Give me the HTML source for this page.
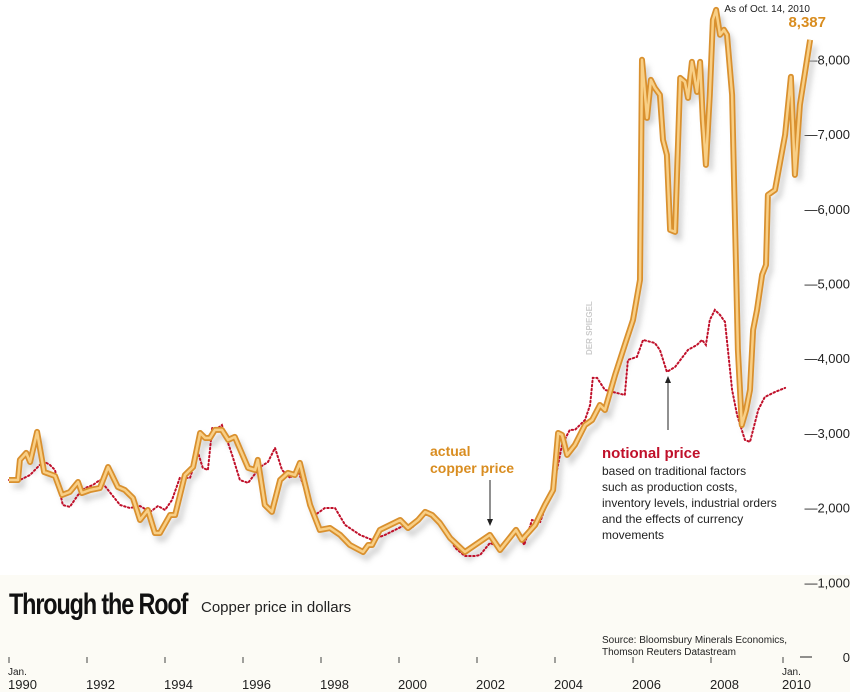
<!DOCTYPE html>
<html><head><meta charset="utf-8"><style>
body{margin:0;width:850px;height:692px;overflow:hidden;background:#fff;font-family:"Liberation Sans",sans-serif}
svg{display:block}
</style></head><body>
<svg id="chart" width="850" height="692" viewBox="0 0 850 692" font-family="Liberation Sans, sans-serif">
<defs><filter id="sh" x="-5%" y="-5%" width="110%" height="115%"><feGaussianBlur stdDeviation="3"/></filter></defs>
<rect x="0" y="575" width="850" height="117" fill="#fcfbf5"/>
<g id="yaxis"></g>
<g id="xaxis"></g>
<g id="series"></g>
<text x="9" y="614" font-size="30" font-weight="bold" fill="#111" transform="translate(9 0) scale(0.78 1) translate(-9 0)" textLength="230">Through the Roof</text>
<text x="201" y="612" font-size="15" fill="#222">Copper price in dollars</text>
<text x="602" y="643" font-size="10" fill="#222">Source: Bloomsbury Minerals Economics,</text>
<text x="602" y="655" font-size="10" fill="#222">Thomson Reuters Datastream</text>
<text x="810" y="12" font-size="10" fill="#222" text-anchor="end">As of Oct. 14, 2010</text>
<text x="826" y="27" font-size="15" font-weight="bold" fill="#d98d20" text-anchor="end">8,387</text>
<text x="430" y="456" font-size="14" font-weight="bold" fill="#d98d20">actual</text>
<text x="430" y="473" font-size="14" font-weight="bold" fill="#d98d20">copper price</text>
<line x1="490" y1="480" x2="490" y2="522" stroke="#222" stroke-width="1"/>
<path d="M487,519 L490,526 L493,519Z" fill="#222"/>
<text x="602" y="458" font-size="15" font-weight="bold" fill="#c0102a">notional price</text>
<g font-size="12" fill="#222">
<text x="602" y="475">based on traditional factors</text>
<text x="602" y="491">such as production costs,</text>
<text x="602" y="507">inventory levels, industrial orders</text>
<text x="602" y="523">and the effects of currency</text>
<text x="602" y="539">movements</text></g>
<line x1="668" y1="430" x2="668" y2="380" stroke="#222" stroke-width="1"/>
<path d="M665,383 L668,376 L671,383Z" fill="#222"/>
<text x="0" y="0" font-size="8" font-weight="bold" fill="#ccc" transform="translate(592 355) rotate(-90)">DER SPIEGEL</text>
</svg>
<script>
const yTicks=[0,1000,2000,3000,4000,5000,6000,7000,8000];
const yTickLabels=["0","1,000","2,000","3,000","4,000","5,000","6,000","7,000","8,000"];
const xTicks=[1990,1992,1994,1996,1998,2000,2002,2004,2006,2008,2010];
const xTickLabels=["1990","1992","1994","1996","1998","2000","2002","2004","2006","2008","2010"];
const actualDates=[1990,1990.23,1990.28,1990.44,1990.54,1990.72,1990.9,1991.18,1991.36,1991.56,1991.77,1991.87,1992.08,1992.33,1992.54,1992.79,1992.97,1993.18,1993.36,1993.56,1993.74,1993.87,1994.13,1994.26,1994.51,1994.72,1994.9,1995.03,1995.15,1995.28,1995.46,1995.62,1995.79,1996.13,1996.31,1996.38,1996.56,1996.74,1996.95,1997.15,1997.33,1997.46,1997.72,1997.97,1998.23,1998.49,1998.74,1999.08,1999.21,1999.31,1999.51,1999.77,2000.03,2000.23,2000.49,2000.67,2000.85,2001.05,2001.31,2001.69,2001.95,2002.33,2002.59,2003.0,2003.15,2003.49,2003.74,2003.95,2004.08,2004.18,2004.31,2004.51,2004.77,2004.95,2005.15,2005.28,2005.54,2005.79,2006.0,2006.18,2006.23,2006.36,2006.46,2006.56,2006.69,2006.77,2006.87,2006.95,2007.08,2007.21,2007.33,2007.41,2007.51,2007.64,2007.72,2007.79,2007.87,2007.97,2008.05,2008.13,2008.23,2008.33,2008.41,2008.54,2008.69,2008.79,2008.9,2009.0,2009.08,2009.18,2009.31,2009.41,2009.46,2009.64,2009.9,2010.05,2010.15,2010.28,2010.54];
const actualValues=[2370,2370,2638,2732,2611,3013,2477,2424,2169,2209,2343,2196,2236,2263,2544,2276,2236,2129,1834,1968,1660,1660,1901,1901,2437,2544,2999,2932,2932,3040,3040,2906,2946,2531,2504,2638,2035,1942,2370,2464,2437,2598,2035,1701,1727,1634,1500,1406,1500,1500,1701,1767,1834,1727,1834,1942,1901,1794,1593,1406,1500,1634,1433,1701,1567,1767,2035,2236,2999,2973,2705,2839,3106,3173,3374,3307,3776,4178,4512,5048,7994,7217,7726,7619,7525,6923,6722,5718,5691,7753,7699,7485,7967,7565,7967,7190,6588,7525,8529,8663,8329,8396,8329,7525,4111,3106,3307,3575,4379,4646,5115,5249,6186,6253,6990,7766,6454,7391,8262];
const notionalDates=[1990,1990.28,1990.54,1990.79,1990.92,1991.05,1991.18,1991.38,1991.56,1991.77,1991.95,1992.15,1992.33,1992.54,1992.85,1993.1,1993.36,1993.62,1993.82,1994.0,1994.18,1994.38,1994.64,1994.85,1994.97,1995.1,1995.21,1995.36,1995.46,1995.72,1995.92,1996.13,1996.44,1996.64,1996.82,1997.0,1997.21,1997.41,1997.59,1997.85,1998.1,1998.36,1998.62,1999.0,1999.31,1999.64,1999.9,2000.15,2000.33,2000.67,2000.92,2001.18,2001.44,2001.69,2001.95,2002.08,2002.33,2002.59,2002.85,2003.03,2003.21,2003.41,2003.62,2003.82,2004.0,2004.18,2004.38,2004.51,2004.77,2004.9,2004.97,2005.08,2005.28,2005.49,2005.79,2005.87,2006.1,2006.26,2006.56,2006.69,2006.87,2007.08,2007.41,2007.64,2007.77,2007.87,2007.97,2008.1,2008.23,2008.36,2008.54,2008.67,2008.87,2009.0,2009.21,2009.38,2009.64,2009.9];
const notionalValues=[2370,2370,2437,2571,2611,2571,2504,2035,2009,2169,2263,2303,2370,2236,2035,1995,2022,1942,2022,1968,2102,2397,2397,2732,2531,2504,3066,3066,3106,2705,2370,2330,2544,2611,2799,2504,2397,2504,2236,1901,1995,1995,1767,1634,1567,1634,1701,1767,1727,1942,1861,1727,1460,1352,1352,1366,1526,1473,1634,1701,1500,1834,1808,2102,2370,2839,3040,3040,3173,3374,3736,3736,3575,3548,3508,3977,4017,4245,4204,4111,3816,3883,4111,4178,4245,4178,4512,4646,4579,4486,3575,3240,2906,2879,3307,3481,3548,3602];
const NS="http://www.w3.org/2000/svg";
function xs(t){return 9+(t-1990)*39;}
function ys(v){return 657-v*0.0747;}
function mk(tag,attrs,parent){const e=document.createElementNS(NS,tag);for(const k in attrs)e.setAttribute(k,attrs[k]);parent.appendChild(e);return e;}
const yg=document.getElementById('yaxis');
yTicks.forEach((v,i)=>{
 if(v===0){
  const d=mk('line',{x1:800,x2:812,y1:ys(v),y2:ys(v),stroke:'#222','stroke-width':1},yg);
  
  
 }
 const t=mk('text',{x:850,y:ys(v)+5,'font-size':13,fill:'#222','text-anchor':'end'},yg);
 
 
 t.textContent=(v===0?'':'—')+yTickLabels[i];
});
const xg=document.getElementById('xaxis');
xTicks.forEach((v,i)=>{
 const x=v===2010?xs(v)-6:xs(v);
 const l=mk('line',{x1:x,x2:x,y1:657,y2:663,stroke:'#444','stroke-width':1},xg);
 
 
 const t=mk('text',{x:x-1,y:689,'font-size':13,fill:'#222'},xg);
 
 
 t.textContent=xTickLabels[i];
 if(i===0||i===xTicks.length-1){
  const j=mk('text',{x:x-1,y:675,'font-size':10,fill:'#222'},xg);
  
  
  j.textContent='Jan.';
 }
});
const sg=document.getElementById('series');
function pts(d,v){return d.map((t,i)=>xs(t).toFixed(1)+','+ys(v[i]).toFixed(1)).join(' ');}
const ap=pts(actualDates,actualValues);
const s=mk('polyline',{points:ap,fill:'none',stroke:'#bbb','stroke-width':5,filter:'url(#sh)',transform:'translate(4 6)',opacity:0.7},sg);


const np=mk('polyline',{points:pts(notionalDates,notionalValues),fill:'none',stroke:'#c0102a','stroke-width':2,'stroke-dasharray':'1.5 2.5','stroke-linecap':'round'},sg);


const a1=mk('polyline',{points:ap,fill:'none',stroke:'#d9902e','stroke-width':6,'stroke-linejoin':'round'},sg);


const a2=mk('polyline',{points:ap,fill:'none',stroke:'#f8cf86','stroke-width':2.5,'stroke-linejoin':'round'},sg);


</script>
</body></html>
